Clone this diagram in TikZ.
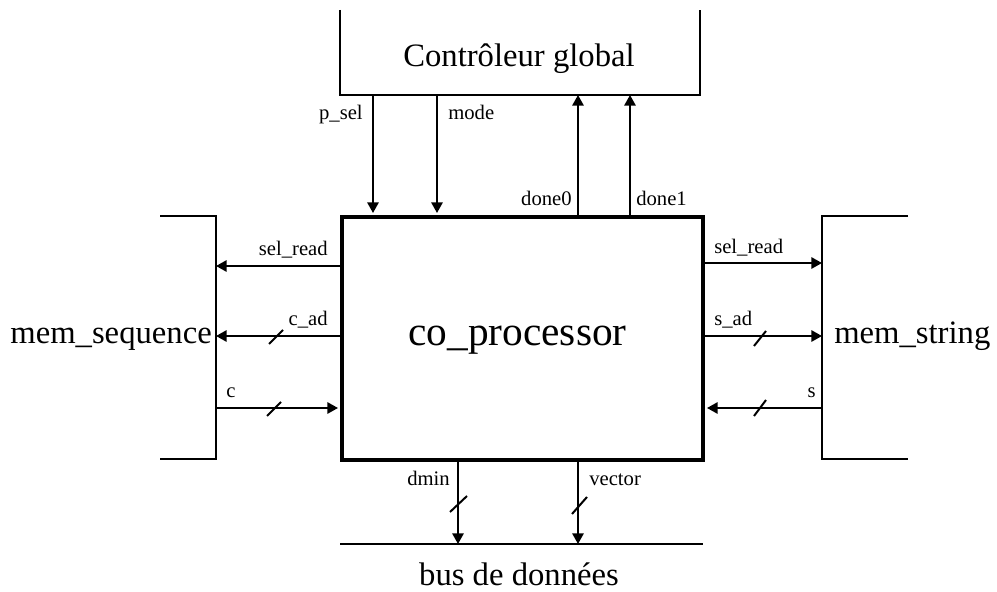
\documentclass[tikz,border=0pt]{standalone}
\usepackage{fontspec}
\setmainfont{Liberation Serif}
\usetikzlibrary{arrows.meta}
\begin{document}
\begin{tikzpicture}[x=0.75pt,y=-0.75pt,
  wire/.style={line width=1.5pt},
  sig/.style={line width=1.5pt,-{Triangle[length=8pt,width=8.5pt]}},
  lbl/.style={font=\fontsize{15.5}{18}\selectfont, inner sep=0pt},
  big/.style={font=\fontsize{24.5}{29}\selectfont, inner sep=0pt},
  cpbox/.style={draw, line width=3pt, minimum width=270.75pt, minimum height=182.25pt,
    inner sep=0pt, font=\fontsize{31}{36}\selectfont}]
\useasboundingbox (0,0) rectangle (997,592);

% controller (open at top)
\draw[wire] (340,10) -- (340,95) -- (700,95) -- (700,10);
\node[big, anchor=base] (ctrl) at (519,67) {Contrôleur global};
\coordinate (pS) at (373,95);
\coordinate (mD) at (437,95);
\coordinate (d0) at (578,95);
\coordinate (d1) at (630,95);

% co-processor
\node[cpbox] (cop) at (522.5,338.5) {};
\node[font=\fontsize{31}{36}\selectfont, inner sep=0pt, anchor=base] (coptxt) at (517.5,345) {co\_processor};

% left memory
\draw[wire] (160,216) -- (216,216) -- (216,459) -- (160,459);
\node[big, anchor=base east] (mseq) at (212,343) {mem\_sequence};
\coordinate (L1) at (216,266);
\coordinate (L2) at (216,336);
\coordinate (L3) at (216,408);

% right memory
\draw[wire] (908,216) -- (822,216) -- (822,459) -- (908,459);
\node[big, anchor=base west] (mstr) at (834,343) {mem\_string};
\coordinate (R1) at (822,263);
\coordinate (R2) at (822,336);
\coordinate (R3) at (822,408);

% bus
\coordinate (busL) at (340,544);
\coordinate (busR) at (703,544);
\draw[wire] (busL) -- (busR);
\node[big, anchor=base] (bus) at (519,585) {bus de données};
\coordinate (B1) at (458,544);
\coordinate (B2) at (578,544);

% top connectors
\draw[sig, shorten >=1.5pt] (pS) -- (pS |- cop.north);
\draw[sig, shorten >=1.5pt] (mD) -- (mD |- cop.north);
\draw[sig] (d0 |- cop.north) -- (d0);
\draw[sig] (d1 |- cop.north) -- (d1);
\node[lbl, anchor=base east] (lps) at (363,119) {p\_sel};
\node[lbl, anchor=base west] (lmd) at (448,119) {mode};
\node[lbl, anchor=base east] (ld0) at (572,205) {done0};
\node[lbl, anchor=base west] (ld1) at (636,205) {done1};

% left connectors
\draw[sig] (L1 -| cop.west) -- (L1);
\draw[sig] (L2 -| cop.west) -- (L2);
\draw[sig, shorten >=1.5pt] (L3) -- (L3 -| cop.west);
\draw[wire] (269,344) -- (283,330);
\draw[wire] (267,416) -- (281,402);
\node[lbl, anchor=base east] (lsr1) at (328,255) {sel\_read};
\node[lbl, anchor=base east] (lcad) at (328,325) {c\_ad};
\node[lbl, anchor=base west] (lc) at (226,397) {c};

% right connectors
\draw[sig] (R1 -| cop.east) -- (R1);
\draw[sig] (R2 -| cop.east) -- (R2);
\draw[sig, shorten >=1.5pt] (R3) -- (R3 -| cop.east);
\draw[wire] (754,346) -- (766,331);
\draw[wire] (754,416) -- (766,400);
\node[lbl, anchor=base west] (lsr2) at (714,253) {sel\_read};
\node[lbl, anchor=base west] (lsad) at (714,325) {s\_ad};
\node[lbl, anchor=base east] (ls) at (816,397) {s};

% bottom connectors
\draw[sig] (B1 |- cop.south) -- (B1);
\draw[sig] (B2 |- cop.south) -- (B2);
\draw[wire] (450,512) -- (467,496);
\draw[wire] (572,514) -- (587,497);
\node[lbl, anchor=base east] (ldm) at (450,485) {dmin};
\node[lbl, anchor=base west] (lvec) at (589,485) {vector};
\end{tikzpicture}
\end{document}
